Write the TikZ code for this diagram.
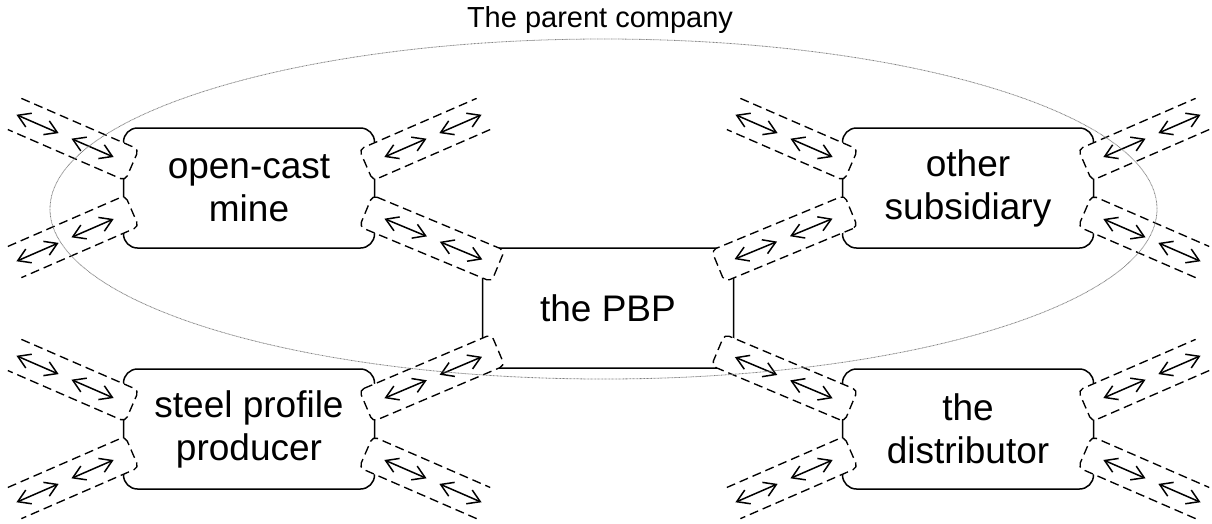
\documentclass[tikz,border=0pt]{standalone}
\usepackage{fontspec}
\setmainfont{Liberation Sans}
\usetikzlibrary{calc,arrows.meta}
\newcommand\outerport[2]{%
  \path[portline] ($(#2)!17pt!90:(#1)$) -- ($(#1)!17pt!-90:(#2)$) -- ($(#1)!17pt!90:(#2)$) -- ($(#2)!17pt!-90:(#1)$);
  \draw[flow] ($(#1)!20pt!(#2)$) -- ($(#1)!66pt!(#2)$);
  \draw[flow] ($(#1)!80pt!(#2)$) -- ($(#1)!126pt!(#2)$);
}
\newcommand\innerport[2]{%
  \path[portline] ($(#1)!17pt!90:(#2)$) -- ($(#2)!17pt!-90:(#1)$) -- ($(#2)!17pt!90:(#1)$) -- ($(#1)!17pt!-90:(#2)$) -- cycle;
  \draw[flow] ($(#1)!20pt!(#2)$) -- ($(#1)!66pt!(#2)$);
  \draw[flow] ($(#1)!80pt!(#2)$) -- ($(#1)!126pt!(#2)$);
}
\begin{document}
\begin{tikzpicture}[x=1pt,y=-1pt,
  company/.style={draw, line width=1.5pt, rounded corners=14pt, fill=white,
    minimum width=251pt, minimum height=120pt, align=center, inner sep=0pt,
    font=\fontsize{37}{43}\selectfont},
  portline/.style={draw, fill=white, line width=1.35pt, dash pattern=on 9pt off 5pt, rounded corners=5pt},
  flow/.style={line width=1.5pt, {Straight Barb[length=12pt,width=15pt]}-{Straight Barb[length=12pt,width=15pt]}},
  parent/.style={draw=gray, line width=0.8pt, dash pattern=on 0.8pt off 0.6pt}
]
\useasboundingbox (0,0) rectangle (1212,523);

% companies
\node[company] (mine)  at (249,188) {open-cast\\mine};
\node[company] (other) at (968,188) {other\\subsidiary};
\node[company] (pbp)   at (608,308) {the PBP};
\node[company] (steel) at (249,429) {steel profile\\producer};
\node[company] (dist)  at (968,429) {the\\distributor};

% port anchor points
\coordinate (mTL) at ($(mine.center)+(-117,-23)$);
\coordinate (mTR) at ($(mine.center)+(117,-23)$);
\coordinate (mBL) at ($(mine.center)+(-117,23)$);
\coordinate (mBR) at ($(mine.center)+(117,23)$);
\coordinate (oTL) at ($(other.center)+(-117,-23)$);
\coordinate (oTR) at ($(other.center)+(117,-23)$);
\coordinate (oBL) at ($(other.center)+(-117,23)$);
\coordinate (oBR) at ($(other.center)+(117,23)$);
\coordinate (sTL) at ($(steel.center)+(-117,-23)$);
\coordinate (sTR) at ($(steel.center)+(117,-23)$);
\coordinate (sBL) at ($(steel.center)+(-117,23)$);
\coordinate (sBR) at ($(steel.center)+(117,23)$);
\coordinate (dTL) at ($(dist.center)+(-117,-23)$);
\coordinate (dTR) at ($(dist.center)+(117,-23)$);
\coordinate (dBL) at ($(dist.center)+(-117,23)$);
\coordinate (dBR) at ($(dist.center)+(117,23)$);
\coordinate (pTL) at ($(pbp.center)+(-110,-42)$);
\coordinate (pTR) at ($(pbp.center)+(110,-42)$);
\coordinate (pBL) at ($(pbp.center)+(-110,42)$);
\coordinate (pBR) at ($(pbp.center)+(110,42)$);

% free outer ends
\coordinate (mTLx) at ($(mTL)+(156.5:128pt)$);
\coordinate (mTRx) at ($(mTR)+(23.5:128pt)$);
\coordinate (mBLx) at ($(mBL)+(203.5:128pt)$);
\coordinate (oTLx) at ($(oTL)+(156.5:128pt)$);
\coordinate (oTRx) at ($(oTR)+(23.5:128pt)$);
\coordinate (oBRx) at ($(oBR)+(-23.5:128pt)$);
\coordinate (sTLx) at ($(sTL)+(156.5:128pt)$);
\coordinate (sBLx) at ($(sBL)+(203.5:128pt)$);
\coordinate (sBRx) at ($(sBR)+(-23.5:128pt)$);
\coordinate (dTRx) at ($(dTR)+(23.5:128pt)$);
\coordinate (dBLx) at ($(dBL)+(203.5:128pt)$);
\coordinate (dBRx) at ($(dBR)+(-23.5:128pt)$);

% open ports
\outerport{mTL}{mTLx}
\outerport{mTR}{mTRx}
\outerport{mBL}{mBLx}
\outerport{oTL}{oTLx}
\outerport{oTR}{oTRx}
\outerport{oBR}{oBRx}
\outerport{sTL}{sTLx}
\outerport{sBL}{sBLx}
\outerport{sBR}{sBRx}
\outerport{dTR}{dTRx}
\outerport{dBL}{dBLx}
\outerport{dBR}{dBRx}

% ports between companies
\innerport{mBR}{pTL}
\innerport{oBL}{pTR}
\innerport{sTR}{pBL}
\innerport{dTL}{pBR}

% the parent company
\draw[parent] (603.5,209) ellipse [x radius=553.5pt, y radius=170pt];
\node[anchor=base, inner sep=0pt, font=\fontsize{29}{34}\selectfont] (title) at (600,27) {The parent company};
\end{tikzpicture}
\end{document}
